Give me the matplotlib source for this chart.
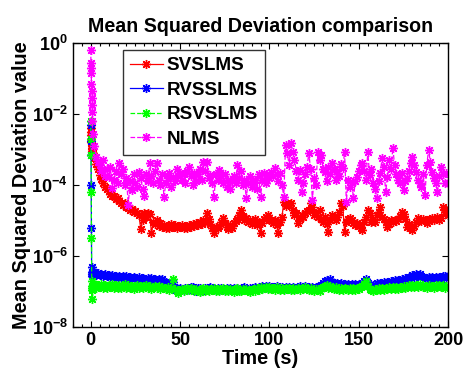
import numpy as np
import matplotlib
matplotlib.use("Agg")
import matplotlib.pyplot as plt
from matplotlib.ticker import FixedLocator, FixedFormatter, MultipleLocator, NullLocator

plt.rcParams['font.family'] = ['Liberation Sans', 'DejaVu Sans']
plt.rcParams['font.weight'] = 'bold'
plt.rcParams['mathtext.fontset'] = 'custom'
plt.rcParams['mathtext.rm'] = 'Liberation Sans:bold'
plt.rcParams['mathtext.it'] = 'Liberation Sans:bold'
plt.rcParams['mathtext.bf'] = 'Liberation Sans:bold'

# ---- time axis: fast start-up samples, then one sample per second ----
t_start = np.arange(0.0, 1.0, 0.1)
t_run = np.arange(1, 201)

# ---- MSD values, stored as log10 ----
svslms_start = [-2.40, -2.50, -2.60, -2.70, -2.80, -2.90, -2.95, -3.00, -3.05, -3.10]
svslms_run = [
    -3.10, -3.25, -3.40, -3.55, -3.72, -3.82, -3.95, -4.05, -4.12, -4.18,
    -4.25, -4.32, -4.30, -4.40, -4.38, -4.45, -4.50, -4.55, -4.52, -4.62,
    -4.65, -4.70, -4.68, -4.75, -4.72, -4.78, -4.85, -5.25, -4.98, -4.80,
    -4.90, -4.78, -4.82, -5.35, -5.05, -5.10, -5.00, -5.15, -5.08, -5.18,
    -5.12, -5.20, -5.15, -5.22, -5.10, -5.18, -5.14, -5.21, -5.16, -5.19,
    -5.12, -5.20, -5.15, -5.22, -5.13, -5.18, -5.10, -5.16, -5.08, -5.12,
    -5.05, -5.10, -4.98, -5.05, -4.80, -4.95, -5.10, -5.20, -5.35, -5.18,
    -5.22, -5.15, -5.05, -4.92, -5.08, -5.18, -5.25, -5.12, -5.20, -5.08,
    -5.02, -4.95, -4.85, -4.70, -4.88, -5.00, -4.92, -5.05, -4.98, -5.10,
    -5.04, -4.95, -5.12, -5.05, -5.35, -5.08, -4.95, -4.90, -4.85, -5.00,
    -4.98, -5.06, -4.99, -5.12, -5.35, -5.05, -4.90, -4.48, -4.60, -4.52,
    -4.56, -4.50, -4.70, -4.85, -4.80, -5.07, -4.95, -4.85, -4.90, -4.78,
    -4.72, -4.70, -4.51, -4.62, -4.85, -4.80, -4.90, -4.70, -4.95, -5.04,
    -4.90, -5.10, -5.32, -5.00, -4.85, -4.92, -4.99, -4.90, -4.75, -4.51,
    -4.60, -5.32, -5.05, -4.95, -4.93, -5.00, -5.07, -5.12, -5.07, -5.15,
    -5.22, -5.27, -5.05, -4.90, -4.70, -4.80, -5.04, -4.95, -5.04, -4.85,
    -4.75, -4.62, -4.90, -4.95, -5.05, -5.18, -5.10, -5.00, -5.05, -4.99,
    -5.02, -4.95, -4.88, -4.76, -4.82, -4.95, -5.18, -5.10, -5.20, -5.27,
    -5.15, -5.05, -4.93, -4.98, -5.02, -4.95, -5.00, -5.07, -5.02, -4.95,
    -4.93, -5.00, -4.95, -4.90, -4.98, -4.92, -4.62, -4.75, -4.70, -4.85,
]

rvsslms_start = [-2.30, -2.75, -3.15, -4.00, -5.20, -6.30, -6.45, -6.50, -6.50, -6.55]
rvsslms_run = [
    -6.50, -6.45, -6.53, -6.48, -6.54, -6.50, -6.56, -6.51, -6.57, -6.53,
    -6.58, -6.53, -6.59, -6.55, -6.60, -6.55, -6.61, -6.56, -6.62, -6.57,
    -6.63, -6.58, -6.64, -6.59, -6.62, -6.66, -6.60, -6.66, -6.61, -6.65,
    -6.67, -6.62, -6.68, -6.63, -6.69, -6.64, -6.70, -6.65, -6.71, -6.66,
    -6.72, -6.73, -6.77, -6.80, -6.86, -6.72, -6.96, -6.91, -6.95, -6.89,
    -6.93, -6.96, -6.90, -6.97, -6.92, -6.88, -6.87, -6.94, -6.98, -6.91,
    -6.89, -6.99, -6.95, -6.90, -6.96, -6.91, -6.88, -6.94, -6.89, -6.95,
    -6.90, -6.96, -6.91, -6.97, -6.92, -6.89, -6.95, -6.90, -6.96, -6.91,
    -6.95, -6.89, -6.94, -6.97, -6.91, -6.88, -6.94, -6.96, -6.90, -6.95,
    -6.91, -6.87, -6.92, -6.86, -6.91, -6.85, -6.90, -6.84, -6.89, -6.85,
    -6.90, -6.86, -6.91, -6.85, -6.90, -6.93, -6.87, -6.92, -6.86, -6.91,
    -6.87, -6.92, -6.86, -6.91, -6.94, -6.88, -6.85, -6.91, -6.87, -6.84,
    -6.90, -6.86, -6.91, -6.87, -6.92, -6.86, -6.90, -6.85, -6.81, -6.77,
    -6.71, -6.67, -6.71, -6.66, -6.72, -6.75, -6.80, -6.76, -6.81, -6.77,
    -6.82, -6.78, -6.83, -6.79, -6.84, -6.80, -6.85, -6.79, -6.83, -6.78,
    -6.82, -6.77, -6.70, -6.64, -6.76, -6.82, -6.86, -6.82, -6.81, -6.77,
    -6.80, -6.75, -6.79, -6.74, -6.78, -6.72, -6.76, -6.70, -6.75, -6.69,
    -6.73, -6.67, -6.71, -6.65, -6.69, -6.63, -6.67, -6.59, -6.59, -6.54,
    -6.58, -6.52, -6.57, -6.51, -6.56, -6.58, -6.61, -6.62, -6.58, -6.64,
    -6.60, -6.65, -6.59, -6.63, -6.58, -6.64, -6.57, -6.55, -6.61, -6.57,
]

rsvslms_start = [-2.20, -2.70, -3.15, -4.20, -5.50, -6.70, -7.20, -6.90, -6.95, -6.85]
rsvslms_run = [
    -6.85, -6.78, -6.90, -6.82, -6.88, -6.79, -6.89, -6.83, -6.91, -6.81,
    -6.88, -6.80, -6.90, -6.83, -6.89, -6.81, -6.91, -6.84, -6.80, -6.89,
    -6.83, -6.90, -6.84, -6.92, -6.85, -6.81, -6.90, -6.84, -6.91, -6.85,
    -6.83, -6.90, -6.85, -6.93, -6.86, -6.84, -6.91, -6.85, -6.92, -6.86,
    -6.90, -6.93, -6.87, -6.96, -6.90, -6.66, -6.94, -6.99, -7.03, -6.97,
    -6.93, -7.00, -6.94, -6.91, -6.97, -6.89, -6.94, -6.98, -6.93, -7.00,
    -7.01, -6.94, -6.91, -6.98, -6.93, -6.99, -6.92, -6.97, -6.91, -6.98,
    -6.93, -7.00, -6.94, -6.91, -6.98, -6.92, -6.99, -6.93, -6.97, -7.01,
    -6.94, -6.91, -6.98, -7.00, -6.93, -6.97, -6.92, -6.99, -7.02, -6.95,
    -6.93, -6.98, -6.90, -6.96, -6.88, -6.94, -6.89, -6.86, -6.93, -6.88,
    -6.94, -6.89, -6.95, -6.87, -6.93, -6.96, -6.90, -6.95, -6.89, -6.94,
    -6.90, -6.96, -6.91, -6.97, -6.92, -6.89, -6.95, -6.90, -6.94, -6.88,
    -6.93, -6.96, -6.90, -6.95, -6.98, -6.92, -6.97, -6.99, -6.91, -6.87,
    -6.85, -6.81, -6.89, -6.84, -6.91, -6.94, -6.88, -6.93, -6.96, -6.90,
    -6.95, -6.89, -6.94, -6.97, -6.91, -6.96, -6.90, -6.95, -6.89, -6.94,
    -6.88, -6.85, -6.78, -6.70, -6.84, -6.93, -6.96, -6.98, -6.92, -6.97,
    -6.91, -6.96, -6.90, -6.95, -6.89, -6.94, -6.88, -6.93, -6.87, -6.92,
    -6.88, -6.93, -6.87, -6.91, -6.85, -6.90, -6.86, -6.83, -6.87, -6.82,
    -6.87, -6.81, -6.86, -6.80, -6.85, -6.88, -6.84, -6.89, -6.83, -6.88,
    -6.84, -6.89, -6.83, -6.88, -6.82, -6.87, -6.83, -6.89, -6.84, -6.88,
]

nlms_start = [-0.20, -0.55, -0.70, -0.85, -1.15, -1.35, -1.55, -1.75, -1.95, -2.20]
nlms_run = [
    -2.55, -2.90, -3.20, -3.35, -3.44, -3.60, -3.30, -3.75, -3.55, -3.77,
    -3.50, -4.08, -3.85, -3.60, -3.95, -3.38, -3.70, -3.55, -4.00, -3.80,
    -4.56, -3.90, -4.14, -3.70, -3.95, -4.05, -3.63, -3.80, -4.10, -4.30,
    -3.70, -3.90, -3.38, -3.75, -3.95, -3.60, -3.38, -3.85, -4.00, -3.70,
    -4.34, -3.95, -3.80, -3.65, -4.05, -3.77, -3.90, -3.55, -3.75, -3.66,
    -3.85, -3.70, -3.95, -3.60, -3.49, -3.75, -4.00, -3.65, -3.90, -3.70,
    -3.55, -3.85, -3.35, -3.60, -3.35, -3.80, -3.72, -3.95, -4.34, -3.70,
    -3.85, -3.58, -3.75, -3.95, -3.70, -4.05, -3.85, -4.10, -3.90, -3.75,
    -3.95, -3.44, -3.80, -3.60, -4.00, -3.85, -4.37, -3.95, -3.75, -4.05,
    -3.90, -3.86, -4.10, -3.70, -4.34, -3.85, -3.65, -3.95, -3.75, -3.80,
    -3.63, -3.75, -3.52, -3.70, -3.90, -3.65, -4.00, -4.34, -2.87, -3.10,
    -3.45, -2.82, -3.07, -3.30, -3.60, -3.85, -3.58, -4.20, -3.95, -3.70,
    -3.50, -3.10, -3.55, -4.42, -3.80, -4.00, -3.07, -3.30, -3.15, -3.55,
    -3.63, -3.90, -3.49, -3.70, -3.38, -3.55, -3.86, -3.60, -3.75, -3.40,
    -3.52, -3.07, -4.48, -3.85, -4.06, -3.95, -4.37, -3.90, -3.77, -3.60,
    -3.45, -3.38, -3.60, -3.85, -3.07, -3.72, -3.55, -3.94, -4.10, -4.37,
    -3.90, -3.65, -3.24, -3.50, -4.20, -3.77, -3.30, -3.55, -2.96, -3.44,
    -3.70, -3.85, -3.94, -3.65, -4.14, -3.90, -3.80, -3.60, -3.38, -3.21,
    -3.45, -3.63, -3.85, -3.95, -4.06, -3.70, -4.28, -3.44, -3.01, -3.35,
    -3.63, -3.80, -3.95, -4.20, -3.75, -3.49, -3.70, -3.94, -3.65, -3.94,
]

labels = ['SVSLMS', 'RVSSLMS', 'RSVSLMS', 'NLMS']
x_ticks = [0, 50, 100, 150, 200]
y_tick_exps = [0, -2, -4, -6, -8]

series = [
    (svslms_start, svslms_run, '#ff0000', '-'),
    (rvsslms_start, rvsslms_run, '#0000ff', '-'),
    (rsvslms_start, rsvslms_run, '#00ff00', '--'),
    (nlms_start, nlms_run, '#ff00ff', '--'),
]

fig = plt.figure(figsize=(4.64, 3.71), dpi=100)
ax = fig.add_axes([0.157, 0.1186, 0.809, 0.7655])

t_all = np.concatenate([t_start, t_run])
for (s0, s1, color, ls), name in zip(series, labels):
    msd = 10.0 ** np.concatenate([s0, s1])
    ax.plot(t_all, msd, color=color, linestyle=ls, linewidth=0.9,
            marker=(8, 2, 0), markersize=6.5, markeredgewidth=1.0,
            label=name)

ax.set_yscale('log')
ax.set_xlim(-10, 200)
ax.set_ylim(1e-8, 1e0)

ax.xaxis.set_major_locator(FixedLocator(x_ticks))
ax.xaxis.set_major_formatter(FixedFormatter([str(v) for v in x_ticks]))
ax.xaxis.set_minor_locator(MultipleLocator(5))
ax.yaxis.set_major_locator(FixedLocator([10.0 ** e for e in y_tick_exps]))
ax.yaxis.set_major_formatter(FixedFormatter([r'$10^{%d}$' % e for e in y_tick_exps]))
ax.yaxis.set_minor_locator(NullLocator())

ax.tick_params(which='both', direction='in', top=True, right=True,
               labelsize=13, width=0.8)
ax.tick_params(which='major', length=4)
ax.tick_params(which='minor', length=2)
for lab in ax.get_xticklabels() + ax.get_yticklabels():
    lab.set_fontweight('bold')
for sp in ax.spines.values():
    sp.set_linewidth(1.0)

ax.set_title('Mean Squared Deviation comparison', fontsize=14.1,
             fontweight='bold', pad=8)
ax.set_xlabel('Time (s)', fontsize=14.3, fontweight='bold', labelpad=0)
ax.set_ylabel('Mean Squared Deviation value', fontsize=14.3,
              fontweight='bold', labelpad=0)

leg = ax.legend(loc='upper left', bbox_to_anchor=(0.133, 0.975),
                frameon=True, fancybox=False, numpoints=1,
                handlelength=1.75, handletextpad=0.2, labelspacing=0.38,
                borderpad=0.38, borderaxespad=0.0,
                prop={'weight': 'bold', 'size': 13.6})
leg.get_frame().set_edgecolor('black')
leg.get_frame().set_linewidth(1.0)

fig.savefig('out.png', dpi=100)
